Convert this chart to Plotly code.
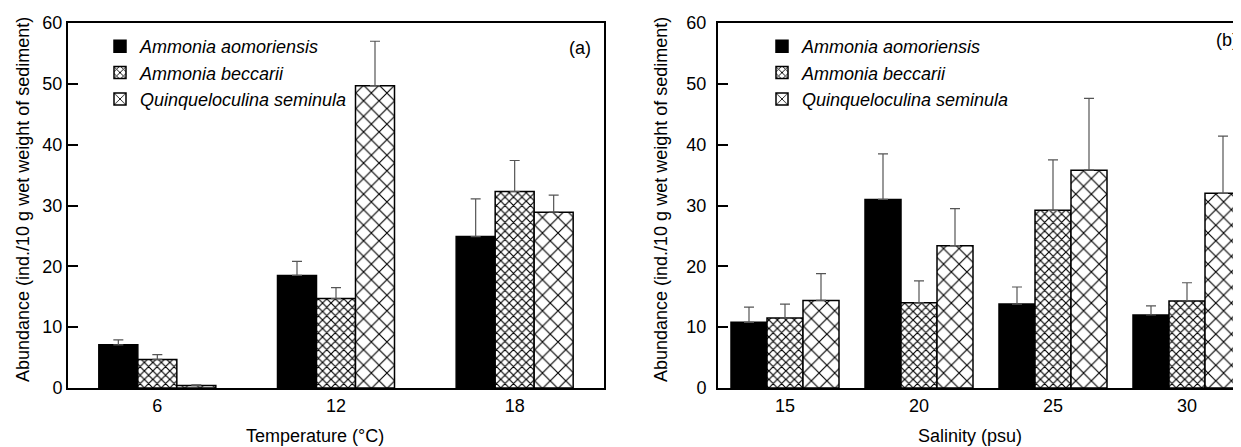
import plotly.graph_objects as go

# ---------------- data ----------------
SPECIES = ["Ammonia aomoriensis", "Ammonia beccarii", "Quinqueloculina seminula"]

TEMP_CATS = ["6", "12", "18"]
TEMP_AAO = [7.1, 18.5, 24.9]
TEMP_AAO_ERR = [0.8, 2.3, 6.2]
TEMP_ABE = [4.7, 14.7, 32.3]
TEMP_ABE_ERR = [0.8, 1.8, 5.1]
TEMP_QSE = [0.4, 49.7, 28.9]
TEMP_QSE_ERR = [0.1, 7.3, 2.8]

SAL_CATS = ["15", "20", "25", "30"]
SAL_AAO = [10.8, 31.0, 13.8, 12.0]
SAL_AAO_ERR = [2.5, 7.5, 2.8, 1.5]
SAL_ABE = [11.5, 14.0, 29.2, 14.3]
SAL_ABE_ERR = [2.3, 3.6, 8.3, 3.0]
SAL_QSE = [14.4, 23.4, 35.8, 32.0]
SAL_QSE_ERR = [4.4, 6.1, 11.8, 9.4]

Y_TICKS = [0, 10, 20, 30, 40, 50, 60]

# ---------------- layout helpers ----------------
# The page body adds an 8 px margin, so the figure is made 8 px smaller
# and all target positions (window pixels) are shifted by that offset.
OFF = 8
WIN_W, WIN_H = 1241, 447
W, H = WIN_W - OFF, WIN_H - OFF
TOP_WIN, BOT_WIN = 23, 388          # window y of y=60 and y=0
ML, MR = 0, 0
MT = TOP_WIN - OFF
MB = H - (BOT_WIN - OFF)
PW = W - ML - MR
PH = H - MT - MB
FONT = "Liberation Sans, Arial, Helvetica, sans-serif"


def fx(px):
    return (px - OFF - ML) / PW


def fy(py):
    return (BOT_WIN - py) / PH


STYLES = [
    dict(color="black", line=dict(color="black", width=1.5)),
    dict(color="white", line=dict(color="black", width=1.5),
         pattern=dict(shape="x", size=6, solidity=0.35, fgcolor="black", fgopacity=1,
                      bgcolor="white", fillmode="overlay")),
    dict(color="white", line=dict(color="black", width=1.5),
         pattern=dict(shape="x", size=11, solidity=0.2, fgcolor="black", fgopacity=1,
                      bgcolor="white", fillmode="overlay")),
]

fig = go.Figure()

panels = [
    dict(cats=TEMP_CATS, vals=[TEMP_AAO, TEMP_ABE, TEMP_QSE], errs=[TEMP_AAO_ERR, TEMP_ABE_ERR, TEMP_QSE_ERR],
         xa="x", ya="y", legend="legend", w=39 / 178.67),
    dict(cats=SAL_CATS, vals=[SAL_AAO, SAL_ABE, SAL_QSE], errs=[SAL_AAO_ERR, SAL_ABE_ERR, SAL_QSE_ERR],
         xa="x2", ya="y2", legend="legend2", w=36 / 134.0),
]

for p in panels:
    w = p["w"]
    offsets = [-1.5 * w, -0.5 * w, 0.5 * w]
    for i, name in enumerate(SPECIES):
        fig.add_trace(go.Bar(
            x=p["cats"], y=p["vals"][i], name=name,
            xaxis=p["xa"], yaxis=p["ya"], legend=p["legend"],
            width=w, offset=offsets[i],
            marker=STYLES[i],
            error_y=dict(type="data", array=p["errs"][i], arrayminus=[0] * len(p["cats"]),
                         symmetric=False, color="#555", thickness=1.2, width=5),
        ))

axis_common = dict(showgrid=False, zeroline=False, showline=True, linecolor="black", linewidth=2,
                   tickfont=dict(family=FONT, size=18, color="black"))

legend_common = dict(xanchor="left", yanchor="top", bgcolor="rgba(0,0,0,0)",
                     font=dict(family=FONT, size=18, style="italic", color="black"), tracegroupgap=0,
                     itemclick=False, itemdoubleclick=False)

fig.update_layout(
    width=W, height=H, autosize=False,
    margin=dict(l=ML, r=MR, t=MT, b=MB, pad=0),
    paper_bgcolor="white", plot_bgcolor="white",
    barmode="overlay",
    showlegend=True,
    font=dict(family=FONT, size=18, color="black"),
    xaxis=dict(domain=[fx(68), fx(604)], type="category", categoryorder="array", categoryarray=TEMP_CATS,
               range=[-0.5, 2.5], ticks="", mirror=True, ticklabelstandoff=0, anchor="y", **axis_common),
    yaxis=dict(domain=[0, 1], range=[0, 60], tickvals=Y_TICKS, ticks="inside", ticklen=10, tickwidth=1.5,
               tickcolor="black", mirror=True, ticklabelstandoff=0, anchor="x", **axis_common),
    xaxis2=dict(domain=[fx(718), 1.0], type="category", categoryorder="array", categoryarray=SAL_CATS,
                range=[-0.5, -0.5 + (WIN_W - 718) / 134.0], ticks="", mirror=True, ticklabelstandoff=0,
                anchor="y2", **axis_common),
    yaxis2=dict(domain=[0, 1], range=[0, 60], tickvals=Y_TICKS, ticks="inside", ticklen=10, tickwidth=1.5,
                tickcolor="black", mirror=False, ticklabelstandoff=6, anchor="x2", **axis_common),
    legend=dict(x=fx(100), y=fy(28), **legend_common),
    legend2=dict(x=fx(762), y=fy(28), **legend_common),
)

ann_font = dict(family=FONT, size=18, color="black")
annotations = [
    dict(text="Abundance (ind./10 g wet weight of sediment)", x=fx(23), y=fy(200), textangle=-90,
         xanchor="center"),
    dict(text="Abundance (ind./10 g wet weight of sediment)", x=fx(661), y=fy(200), textangle=-90,
         xanchor="center"),
    dict(text="Temperature (°C)", x=fx(315), y=fy(436), xanchor="center"),
    dict(text="Salinity (psu)", x=fx(970), y=fy(436), xanchor="center"),
    dict(text="(a)", x=fx(579.5), y=fy(48), xanchor="center"),
    dict(text="(b)", x=fx(1240), y=fy(40), xanchor="right"),
]
for a in annotations:
    fig.add_annotation(xref="paper", yref="paper", yanchor="middle",
                       showarrow=False, font=ann_font, **a)

fig.write_html("out.html", config={"displayModeBar": False})
